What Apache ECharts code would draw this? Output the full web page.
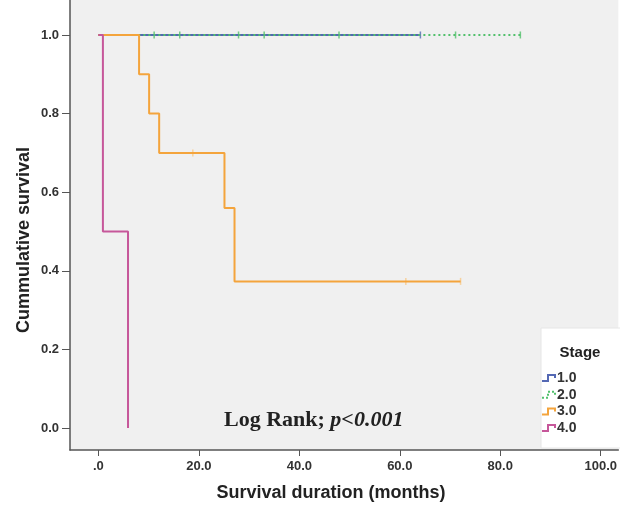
<!DOCTYPE html>
<html lang="en">
<head>
  <meta charset="UTF-8">
  <title>Survival</title>
  <script src="https://cdn.jsdelivr.net/npm/echarts@6/dist/echarts.min.js"></script>
  <style>
    * { margin: 0; padding: 0; }
    body { background: #fff; }
    #main { width: 620px; height: 506px; }
  </style>
</head>
<body>
  <div id="main"></div>
  <script>
    // Kaplan-Meier steps: [months, survival]
    var stage1 = [[0, 1], [64.1, 1]];
    var stage2 = [[0, 1], [84, 1]];
    var stage3 = [[0, 1], [8.1, 0.9], [10.1, 0.8], [12.1, 0.7], [25.1, 0.56], [27.1, 0.373], [72.1, 0.373]];
    var stage4 = [[0, 1], [0.9, 0.5], [5.9, 0]];

    // censored cases (small vertical ticks)
    var cens1 = [[64.1, 1]];
    var cens2 = [[11.1, 1], [16.2, 1], [27.9, 1], [33, 1], [47.9, 1], [71.1, 1], [84, 1]];
    var cens3 = [[18.8, 0.7], [61.2, 0.373], [72.1, 0.373]];

    var xTicks = [0, 20, 40, 60, 80, 100];
    var yTicks = [0, 0.2, 0.4, 0.6, 0.8, 1.0];
    var stages = ['1.0', '2.0', '3.0', '4.0'];
    var colors = ['#5468b4', '#52c06c', '#f4a43c', '#c6579a'];

    var myChart = echarts.init(document.getElementById('main'));

    function stepLine(data, color, dashed) {
      return {
        type: 'line',
        step: 'end',
        data: data,
        symbol: 'none',
        silent: true,
        lineStyle: { color: color, width: 2, type: dashed ? [2, 3] : 'solid' }
      };
    }
    function censor(data, color) {
      return {
        type: 'scatter',
        data: data,
        symbol: 'rect',
        symbolSize: [1.5, 7],
        itemStyle: { color: color },
        silent: true
      };
    }

    var axisText = { color: '#333', fontFamily: 'Liberation Sans', fontWeight: 'bold', fontSize: 13 };

    // legend drawn as a box in the lower right
    var legendItems = [];
    stages.forEach(function (s, i) {
      var y = 378 + i * 16.7;
      legendItems.push({
        type: 'polyline',
        shape: { points: [[542, y + 3], [548, y + 3], [548, y - 3], [555, y - 3], [555, y]] },
        style: { stroke: colors[i], lineWidth: 2, fill: null, lineDash: i === 1 ? [2, 2] : null }
      });
      legendItems.push({
        type: 'text', x: 557, y: y,
        style: { text: s, fill: '#333', font: 'bold 14px "Liberation Sans"', verticalAlign: 'middle' }
      });
    });

    var option = {
      animation: false,
      grid: { left: 70, right: 0, top: 0, bottom: 56, show: true, backgroundColor: '#f0f0f0', borderWidth: 0 },
      xAxis: {
        type: 'value', min: -5.65, max: 103.5,
        axisLine: { show: true, onZero: false, lineStyle: { color: '#555', width: 1.5 } },
        axisTick: { show: true, customValues: xTicks, length: 6, lineStyle: { color: '#555' } },
        axisLabel: Object.assign({ customValues: xTicks, margin: 10, formatter: function (v) { return v === 0 ? '.0' : v.toFixed(1); } }, axisText),
        splitLine: { show: false }
      },
      yAxis: {
        type: 'value', min: -0.056, max: 1.089,
        axisLine: { show: true, onZero: false, lineStyle: { color: '#555', width: 1.5 } },
        axisTick: { show: true, customValues: yTicks, length: 8, lineStyle: { color: '#555' } },
        axisLabel: Object.assign({ customValues: yTicks, margin: 11, formatter: function (v) { return v.toFixed(1); } }, axisText),
        splitLine: { show: false }
      },
      series: [
        stepLine(stage1, colors[0], false),
        stepLine(stage2, colors[1], true),
        stepLine(stage3, colors[2], false),
        stepLine(stage4, colors[3], false),
        censor(cens1, colors[0]),
        censor(cens2, colors[1]),
        censor(cens3, '#f7c98a')
      ],
      graphic: [
        {
          type: 'text', x: 331, y: 493,
          style: { text: 'Survival duration (months)', fill: '#222', font: 'bold 18px "Liberation Sans"', align: 'center', verticalAlign: 'middle' }
        },
        {
          type: 'text', x: 24, y: 240, rotation: Math.PI / 2,
          style: { text: 'Cummulative survival', fill: '#222', font: 'bold 18px "Liberation Sans"', align: 'center', verticalAlign: 'middle' }
        },
        {
          type: 'text', x: 224, y: 420,
          style: {
            text: '{a|Log Rank; }{b|p<0.001}',
            verticalAlign: 'middle',
            rich: {
              a: { font: 'bold 22px "Liberation Serif"', fill: '#222' },
              b: { font: 'italic bold 22px "Liberation Serif"', fill: '#222' }
            }
          }
        },
        { type: 'rect', shape: { x: 541, y: 328, width: 80, height: 120 }, style: { fill: '#fff', stroke: '#e6e6e6' } },
        { type: 'text', x: 580, y: 353, style: { text: 'Stage', fill: '#222', font: 'bold 15px "Liberation Sans"', align: 'center', verticalAlign: 'middle' } }
      ].concat(legendItems)
    };
    myChart.setOption(option);
  </script>
</body>
</html>
